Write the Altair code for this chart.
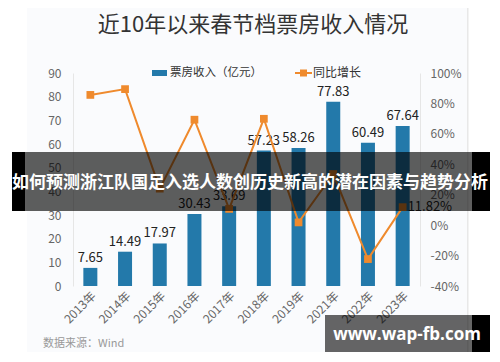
import altair as alt
import pandas as pd

years = ["2013年", "2014年", "2015年", "2016年", "2017年", "2018年", "2019年", "2021年", "2022年", "2023年"]
box_office = [7.65, 14.49, 17.97, 30.43, 33.69, 57.23, 58.26, 77.83, 60.49, 67.64]
growth = [85.6, 89.4, 24.0, 69.3, 10.7, 69.9, 1.8, 33.6, -22.3, 11.82]
growth_labels = ["", "", "", "", "", "", "", "", "", "11.82%"]
left_ticks = [0, 10, 20, 30, 40, 50, 60, 70, 80, 90]
right_ticks = [-40, -20, 0, 20, 40, 60, 80, 100]

title_text = "近10年以来春节档票房收入情况"
legend_bar = "票房收入（亿元）"
legend_line = "同比增长"
source_text = "数据来源：Wind"
banner_text = "如何预测浙江队国足入选人数创历史新高的潜在因素与趋势分析"
watermark_text = "www.wap-fb.com"

BLUE = "#2379aa"
ORANGE = "#ef8a2d"
FONT = "Noto Sans CJK SC"

df = pd.DataFrame({"year": years, "box": box_office, "growth": growth, "glabel": growth_labels})
one = pd.DataFrame({"k": [0]})

W, H = 347, 213

xenc = alt.X("year:N", sort=years,
             scale=alt.Scale(paddingInner=0, paddingOuter=0),
             axis=alt.Axis(title=None, labelAngle=-45, labelFontSize=12, labelColor="#666",
                           domain=False, ticks=False, labelPadding=4, labelFont=FONT))

yleft = alt.Y("box:Q", scale=alt.Scale(domain=[0, 90], nice=False, zero=True),
              axis=alt.Axis(title=None, values=left_ticks, grid=False, ticks=False,
                            domainColor="#e6e6e6", labelColor="#666", labelFontSize=12,
                            labelPadding=12, labelFont=FONT))

bars = alt.Chart(df).mark_bar(size=14, color=BLUE).encode(x=xenc, y=yleft)
bar_labels = alt.Chart(df).mark_text(baseline="bottom", dy=-3, fontSize=13, color="#222", font=FONT).encode(
    x=xenc, y=yleft, text=alt.Text("box:Q", format=".2f"))
bar_layer = alt.layer(bars, bar_labels)

yright = alt.Y("growth:Q", scale=alt.Scale(domain=[-40, 100], nice=False, zero=False),
               axis=alt.Axis(title=None, orient="right", values=right_ticks, grid=False, ticks=False,
                             domainColor="#e6e6e6", labelColor="#666", labelFontSize=12,
                             labelPadding=10, labelExpr="datum.value + '%'", labelFont=FONT))

line = alt.Chart(df).mark_line(color=ORANGE, strokeWidth=2).encode(x=xenc, y=yright)
pts = alt.Chart(df).mark_point(shape="square", filled=True, size=60, opacity=1, color=ORANGE).encode(x=xenc, y=yright)
pt_labels = alt.Chart(df).mark_text(align="left", dx=5, fontSize=13, color="#222", font=FONT).encode(
    x=xenc, y=yright, text="glabel:N")
line_layer = alt.layer(line, pts, pt_labels)

base = alt.Chart(one)

def rect(x1, x2, y1, y2, color, opacity=1.0):
    return base.mark_rect(color=color, opacity=opacity).encode(
        x=alt.value(x1), x2=alt.value(x2), y=alt.value(y1), y2=alt.value(y2))

def text(s, x, y, size, color, weight="normal", align="center", font=FONT):
    return base.mark_text(fontSize=size, color=color, fontWeight=weight, align=align,
                          baseline="middle", font=font).encode(
        x=alt.value(x), y=alt.value(y), text=alt.value(s))

# outside-card white areas
bg = alt.layer(
    rect(-80, -46, -80, 300, "white"),
    rect(395, 440, -80, 300, "white"),
    rect(-80, 440, 284, 300, "white"),
    rect(394, 395.5, -80, 284, "#e8e8e8"),
)

deco = alt.layer(
    text(title_text, 180, -48, 22, "#333"),
    rect(79, 94, -3, 3, BLUE),
    text(legend_bar, 97, 0, 11.5, "#333", align="left"),
    base.mark_rule(color=ORANGE, strokeWidth=2).encode(x=alt.value(222), x2=alt.value(239), y=alt.value(0)),
    rect(227, 234, -3.5, 3.5, ORANGE),
    text(legend_line, 240, 0, 12, "#333", align="left"),
    text(source_text, -30, 271, 11, "#999", align="left"),
)

banner = alt.layer(
    rect(-48, 399, 79, 138, "black", 0.63),
    rect(-61, -48, 79, 138, "black"),
    rect(399, 417, 79, 138, "black"),
    text(banner_text, 177, 110, 17, "white", weight="bold"),
)

watermark = alt.layer(
    rect(252, 399, 242, 280, "black", 0.6),
    rect(399, 417, 242, 280, "black"),
    text(watermark_text, 334, 262, 17, "white", weight="bold", font="Open Sans"),
)

chart = alt.layer(bg, bar_layer, line_layer, deco, banner, watermark).resolve_scale(
    y="independent"
).properties(
    width=W, height=H,
    autosize=alt.AutoSizeParams(type="none"),
    padding={"left": 65, "top": 65, "right": 72, "bottom": 66},
    background="#fafbfd",
).configure_view(strokeWidth=0)

chart.save("out.html", embed_options={"renderer": "svg", "actions": False})
